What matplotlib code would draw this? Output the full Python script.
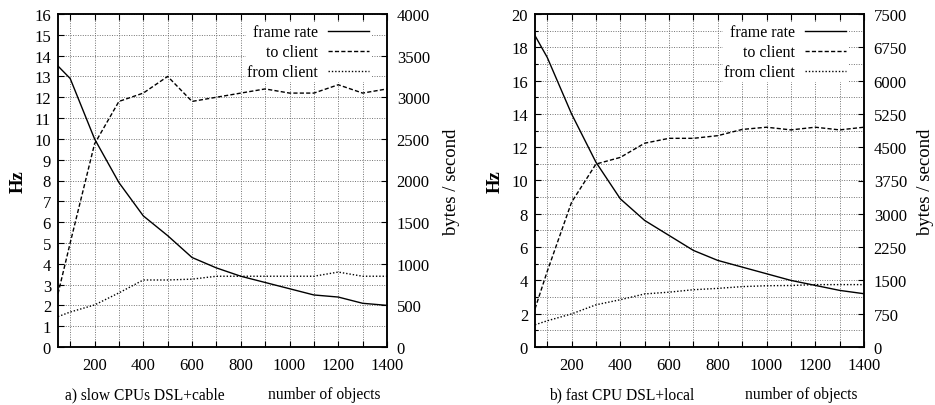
import matplotlib
matplotlib.use("Agg")
import matplotlib.pyplot as plt
from matplotlib.ticker import MultipleLocator

plt.rcParams["font.family"] = ["Liberation Serif", "DejaVu Serif"]
plt.rcParams["font.size"] = 12

# number of objects
objects = [50, 100, 200, 300, 400, 500, 600, 700, 800, 900, 1000, 1100, 1200, 1300, 1400]

# a) slow CPUs DSL+cable
a_frame_rate = [13.5, 12.9, 10.0, 7.9, 6.3, 5.35, 4.3, 3.8, 3.4, 3.1, 2.8, 2.5, 2.4, 2.1, 2.0]
a_to_client = [640, 1250, 2440, 2950, 3050, 3250, 2950, 3000, 3050, 3100, 3050, 3050, 3150, 3050, 3100]
a_from_client = [365, 420, 505, 650, 805, 805, 815, 850, 850, 850, 850, 850, 900, 850, 850]

# b) fast CPU DSL+local
b_frame_rate = [18.7, 17.4, 14.0, 11.1, 8.9, 7.6, 6.7, 5.8, 5.2, 4.8, 4.4, 4.0, 3.7, 3.4, 3.2]
b_to_client = [860, 1700, 3260, 4120, 4270, 4590, 4700, 4700, 4760, 4900, 4950, 4890, 4950, 4890, 4950]
b_from_client = [500, 590, 745, 950, 1065, 1195, 1235, 1290, 1320, 1360, 1380, 1385, 1405, 1405, 1405]

panels = [
    dict(frame=a_frame_rate, to=a_to_client, frm=a_from_client,
         hz_max=16, hz_step=1, b_max=4000, b_step=500,
         caption="a) slow CPUs DSL+cable"),
    dict(frame=b_frame_rate, to=b_to_client, frm=b_from_client,
         hz_max=20, hz_step=2, b_max=7500, b_step=750,
         caption="b) fast CPU DSL+local"),
]

W, H = 935, 406
fig = plt.figure(figsize=(W / 100, H / 100), dpi=100)

lefts = [58, 535]
for p, left in zip(panels, lefts):
    ax = fig.add_axes([left / W, (H - 348) / H, 329 / W, 333 / H])
    ax2 = ax.twinx()

    ax.set_xlim(50, 1400)
    ax.set_ylim(0, p["hz_max"])
    ax2.set_ylim(0, p["b_max"])

    ax.xaxis.set_major_locator(MultipleLocator(200))
    ax.xaxis.set_minor_locator(MultipleLocator(100))
    ax.yaxis.set_major_locator(MultipleLocator(p["hz_step"]))
    ax.yaxis.set_minor_locator(MultipleLocator(1))
    ax2.yaxis.set_major_locator(MultipleLocator(p["b_step"]))

    ax.grid(True, which="both", color="0.45", linestyle=(0, (1, 1.5)), linewidth=0.7)

    ax.tick_params(which="both", direction="in", top=True, right=False, length=4, width=0.8)
    ax.tick_params(axis="y", which="major", pad=5)
    ax.tick_params(axis="x", which="major", pad=7)
    ax.tick_params(axis="y", which="minor", length=2)
    ax.tick_params(axis="x", which="minor", length=4)
    ax2.tick_params(direction="in", length=4, width=0.8, pad=7)

    for sp in list(ax.spines.values()) + list(ax2.spines.values()):
        sp.set_linewidth(1.1)

    l1, = ax.plot(objects, p["frame"], color="black", lw=1.0, label="frame rate")
    l2, = ax2.plot(objects, p["to"], color="black", lw=1.0,
                   linestyle=(0, (3, 1.6)), label="to client")
    l3, = ax2.plot(objects, p["frm"], color="black", lw=1.0,
                   linestyle=(0, (1, 1.4)), label="from client")

    leg = ax2.legend(handles=[l1, l2, l3], loc="upper right",
                     bbox_to_anchor=(0.975, 0.998), markerfirst=False,
                     handlelength=2.6, handletextpad=0.6, labelspacing=0.25,
                     borderpad=0.1, fontsize=11.5, frameon=True, fancybox=False)
    fr = leg.get_frame()
    fr.set_facecolor("white")
    fr.set_edgecolor("none")
    fr.set_alpha(1.0)

    fig.text((left - 40) / W, 1 - 182 / H, "Hz", rotation=90, ha="center", va="center",
             fontsize=13.5, fontweight="bold")
    fig.text(min(left + 394, 926) / W, 1 - 182 / H, "bytes / second", rotation=90,
             ha="center", va="center", fontsize=13.5)
    fig.text((left + 87) / W, 1 - 395 / H, p["caption"], ha="center", va="center", fontsize=11.2)
    fig.text((left + 266) / W, 1 - 395 / H, "number of objects", ha="center", va="center", fontsize=11.2)

fig.savefig("out.png", dpi=100)
